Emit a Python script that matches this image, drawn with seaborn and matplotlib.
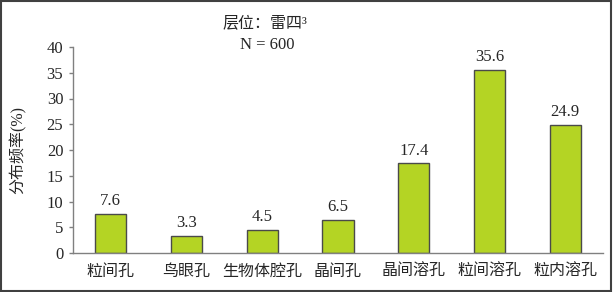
import matplotlib
matplotlib.use("Agg")
import matplotlib.pyplot as plt
import seaborn as sns
from matplotlib.patches import Rectangle

# Data
categories = ["粒间孔", "鸟眼孔", "生物体腔孔", "晶间孔", "晶间溶孔", "粒间溶孔", "粒内溶孔"]
values = [7.6, 3.3, 4.5, 6.5, 17.4, 35.6, 24.9]
value_labels = ["7.6", "3.3", "4.5", "6.5", "17.4", "35.6", "24.9"]
y_ticks = [0, 5, 10, 15, 20, 25, 30, 35, 40]

sns.set_style("white")
plt.rcParams['font.family'] = ['Liberation Serif', 'Noto Sans CJK SC']
plt.rcParams['axes.unicode_minus'] = False

W, H = 614, 292
fig = plt.figure(figsize=(W / 100, H / 100), dpi=100)
ax = fig.add_axes([73 / W, (H - 253) / H, (603 - 73) / W, (253 - 47) / H])

bar_color = "#B4D424"
edge_color = "#4A4A4A"
sns.barplot(x=categories, y=values, color=bar_color, saturation=1, width=0.41,
            edgecolor=edge_color, linewidth=1.0, ax=ax)

for i, (v, lab) in enumerate(zip(values, value_labels)):
    ax.text(i, v + 0.9, lab, ha="center", va="bottom", fontsize=12)

ax.set_xlim(-0.5, len(categories) - 0.5)
ax.set_ylim(0, 40)
ax.set_yticks(y_ticks)
ax.set_yticklabels([str(t) for t in y_ticks], fontsize=12)
ax.set_xticks(range(len(categories)))
ax.set_xticklabels(categories, fontsize=11.5)
ax.set_xticks([i + 0.5 for i in range(len(categories))], minor=True)
ax.tick_params(axis="x", which="major", length=0, pad=8)
ax.tick_params(axis="x", which="minor", length=3, direction="out", color="#808080", width=1)
ax.tick_params(axis="y", length=3, direction="out", color="#808080", width=1, left=True, pad=4)
ax.set_xlabel("")
ax.set_ylabel("分布频率(%)", fontsize=11.5, labelpad=14)

for s in ["top", "right"]:
    ax.spines[s].set_visible(False)
for s in ["left", "bottom"]:
    ax.spines[s].set_color("#808080")
    ax.spines[s].set_linewidth(1)

fig.text(265 / W, (H - 24) / H, "层位：雷四³", ha="center", va="center", fontsize=11.5)
fig.text(267 / W, (H - 45) / H, "N = 600", ha="center", va="center", fontsize=12)

# outer frame
fig.patches.append(Rectangle((0.002, 0.003), 0.993, 0.993, transform=fig.transFigure,
                             fill=False, edgecolor="#404040", linewidth=1.5))

plt.savefig("out.png", dpi=100)
plt.close()
